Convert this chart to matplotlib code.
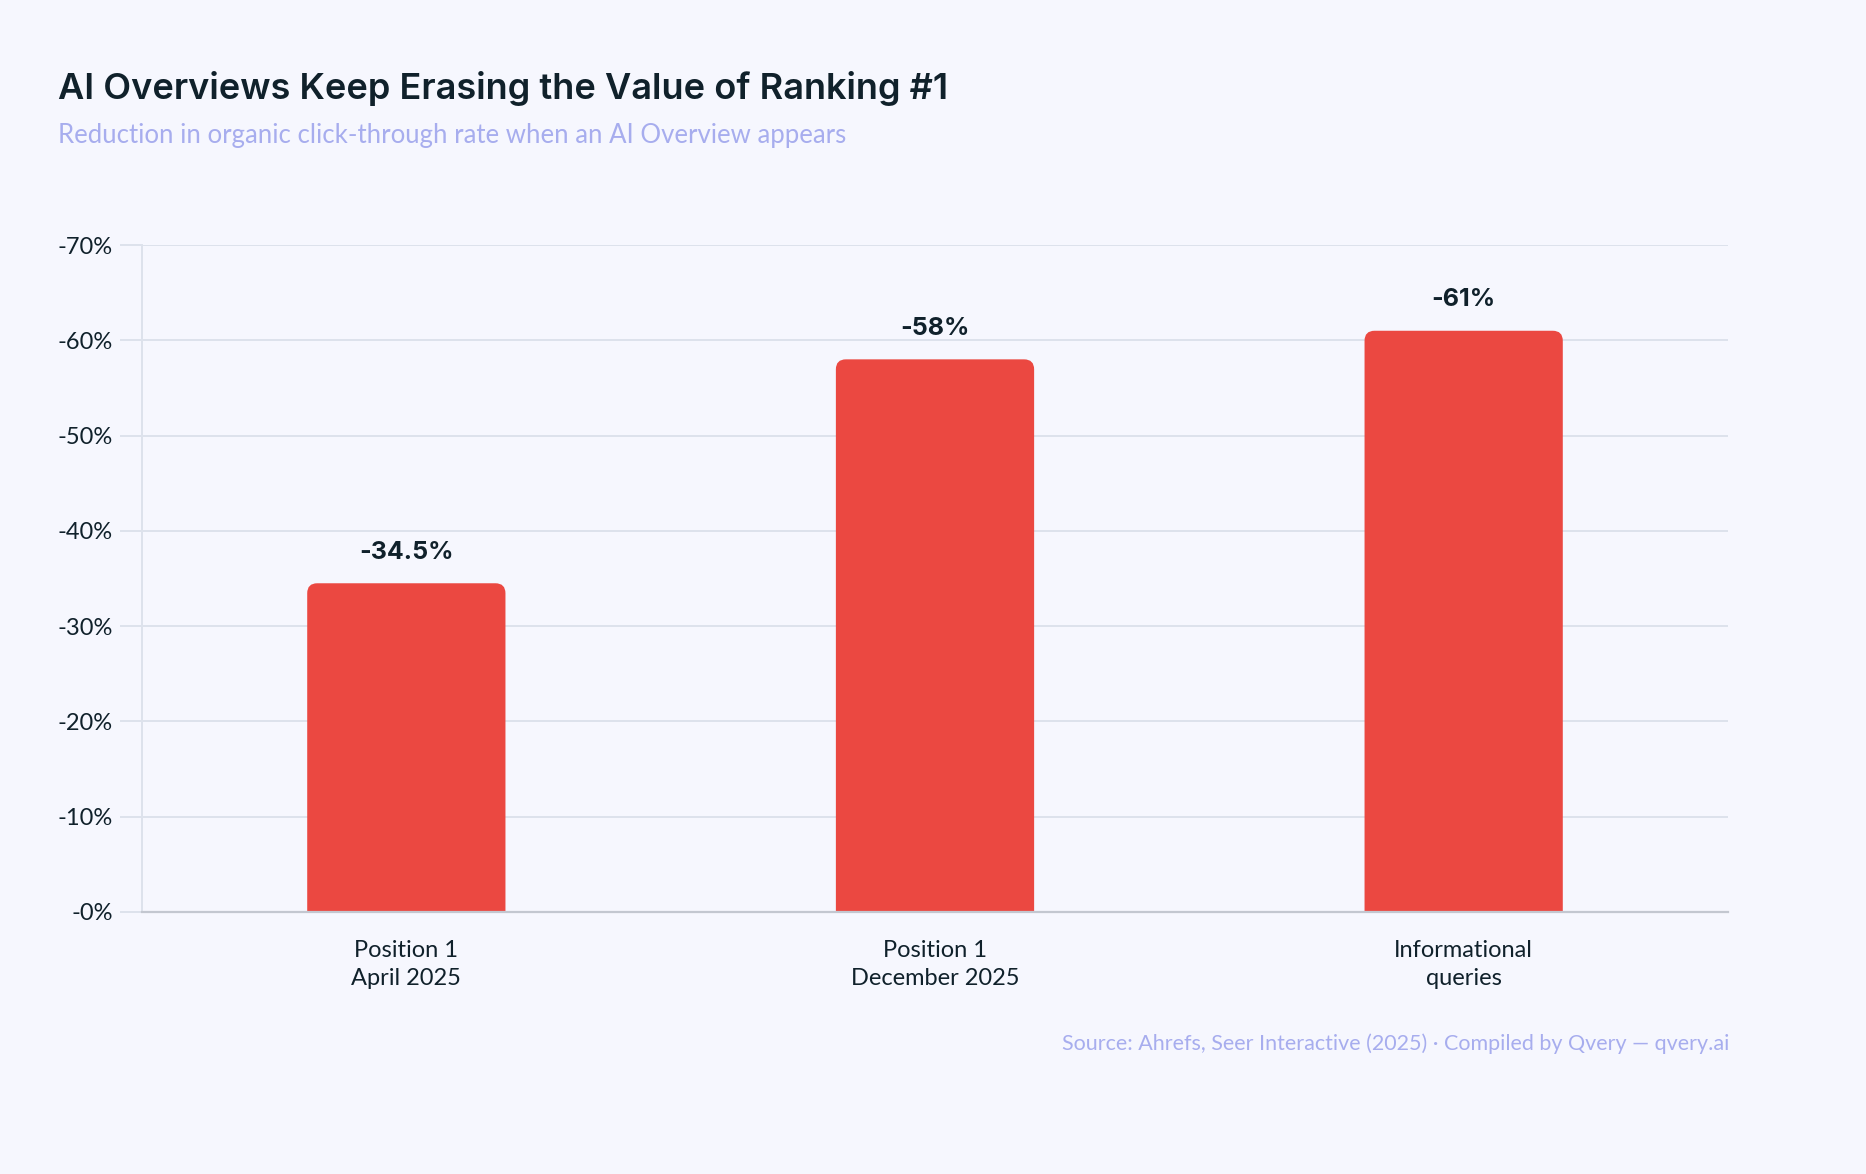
import matplotlib
matplotlib.use("Agg")
import matplotlib.pyplot as plt
from matplotlib.patches import FancyBboxPatch
from matplotlib.ticker import FuncFormatter

categories = ["Position 1\nApril 2025", "Position 1\nDecember 2025", "Informational\nqueries"]
ctr_drop = [-34.5, -58, -61]
bar_labels = ["-34.5%", "-58%", "-61%"]
y_ticks = [0, -10, -20, -30, -40, -50, -60, -70]

bg = "#F6F7FE"
bar_color = "#EB4841"
dark = "#10212B"
muted = "#A7ADEE"
grid_c = "#DDE2EC"

W, H = 1866, 1174
fig = plt.figure(figsize=(W / 100, H / 100), dpi=100, facecolor=bg)
ax = fig.add_axes([142 / W, 1 - 912 / H, (1728 - 142) / W, (912 - 245) / H])
ax.set_facecolor(bg)

x = list(range(len(categories)))
ax.set_xlim(-0.5, len(categories) - 0.5)
ax.set_ylim(0, -70)
width = 0.375

# rounded tops; bars start below the axis so the bottom corners are clipped off
px_x = len(categories) / (1728 - 142)
px_y = 70 / (912 - 245)
r_px = 10
base = 3
for xi, v in zip(x, ctr_drop):
    ax.add_patch(FancyBboxPatch((xi - width / 2, v), width, base - v,
                                boxstyle=f"round,pad=0,rounding_size={r_px * px_x}",
                                mutation_aspect=px_y / px_x,
                                facecolor=bar_color, edgecolor="none", zorder=3))

for xi, v, lab in zip(x, ctr_drop, bar_labels):
    ax.annotate(lab, (xi, v), xytext=(0, 31), textcoords="offset pixels",
                ha="center", va="center", fontsize=18, fontweight="bold",
                family="Inter", color=dark)

ax.set_yticks(y_ticks)
ax.yaxis.set_major_formatter(FuncFormatter(lambda v, p: f"-{abs(v):.0f}%"))
ax.set_xticks(x)
ax.set_xticklabels(categories, fontsize=17, family="Lato", color=dark, linespacing=1.45)
for t in ax.get_yticklabels():
    t.set_fontsize(17)
    t.set_family("Lato")
    t.set_color(dark)

ax.grid(axis="y", color=grid_c, linewidth=1.4, zorder=0)
ax.tick_params(axis="y", length=16, width=1.4, color=grid_c, pad=5)
ax.tick_params(axis="x", length=0, pad=20)

for s in ["top", "right"]:
    ax.spines[s].set_visible(False)
ax.spines["left"].set_color(grid_c)
ax.spines["left"].set_linewidth(1.4)
ax.spines["bottom"].set_color("#C3C7D0")
ax.spines["bottom"].set_linewidth(1.6)
ax.spines["bottom"].set_zorder(4)

fig.text(58 / W, 1 - 89 / H, "AI Overviews Keep Erasing the Value of Ranking #1",
         fontsize=26, fontweight="semibold", family="Inter", color=dark, va="center")
fig.text(58 / W, 1 - 135 / H, "Reduction in organic click-through rate when an AI Overview appears",
         fontsize=18.5, family="Lato", color=muted, va="center")
fig.text(1729 / W, 1 - 1044 / H,
         "Source: Ahrefs, Seer Interactive (2025) \u00b7 Compiled by Qvery \u2014 qvery.ai",
         fontsize=15.5, family="Lato", color=muted, ha="right", va="center")

fig.savefig("out.png", dpi=100, facecolor=bg)
